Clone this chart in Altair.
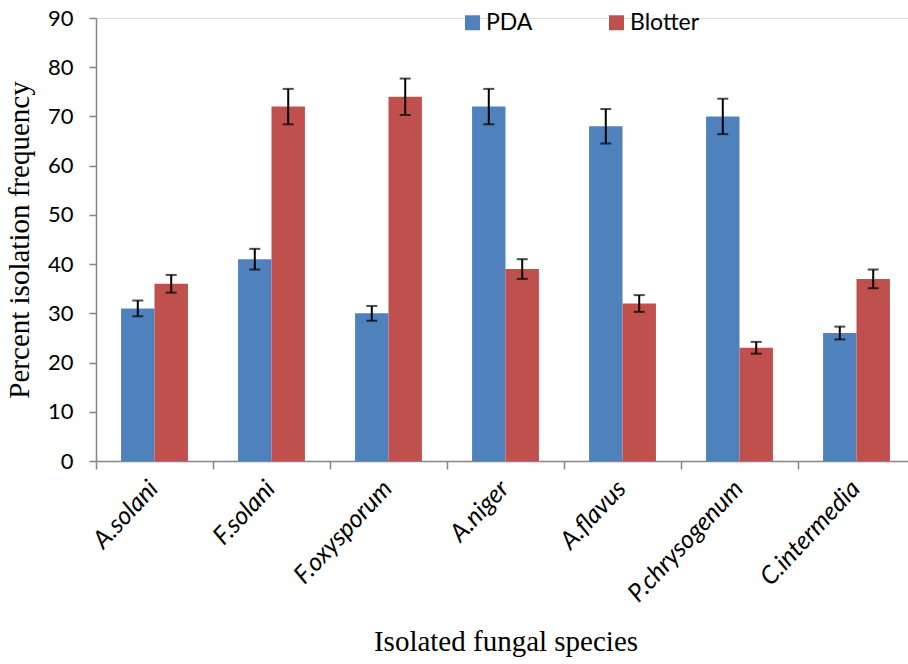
import altair as alt
import pandas as pd

species = ["A.solani", "F.solani", "F.oxysporum", "A.niger", "A.flavus",
           "P.chrysogenum", "C.intermedia"]
methods = ["PDA", "Blotter"]
pda = [31, 41, 30, 72, 68, 70, 26]
pda_err = [1.6, 2.1, 1.5, 3.6, 3.5, 3.6, 1.3]
blotter = [36, 72, 74, 39, 32, 23, 37]
blotter_err = [1.8, 3.6, 3.7, 2.0, 1.7, 1.2, 1.9]
y_ticks = [0, 10, 20, 30, 40, 50, 60, 70, 80, 90]
colors = ["#4F81BD", "#C0504D"]

rows = []
for i, s in enumerate(species):
    rows.append({"species": s, "method": "PDA", "value": pda[i], "err": pda_err[i]})
    rows.append({"species": s, "method": "Blotter", "value": blotter[i], "err": blotter_err[i]})
df = pd.DataFrame(rows)
df["lo"] = df["value"] - df["err"]
df["hi"] = df["value"] + df["err"]

AXIS_GRAY = "#868686"

x_axis = alt.Axis(
    title="Isolated fungal species",
    titleFont="Liberation Serif", titleFontSize=29, titleFontWeight="normal",
    titleColor="black", titlePadding=21,
    labelFont="Lato", labelFontStyle="italic", labelFontSize=25, labelColor="black",
    labelAngle=-47, labelAlign="right", labelBaseline="middle",
    bandPosition=0, labelOffset=-1, labelPadding=15,
    domainColor=AXIS_GRAY, domainWidth=1.5,
    tickColor=AXIS_GRAY, tickWidth=1.5, tickSize=8,
    grid=False,
)
y_axis = alt.Axis(
    title="Percent isolation frequency", values=y_ticks,
    titleFont="Liberation Serif", titleFontSize=29, titleFontWeight="normal",
    titleColor="black", titlePadding=13,
    labelFont="Lato", labelFontSize=22, labelColor="black", labelPadding=16,
    domainColor=AXIS_GRAY, domainWidth=1.5,
    tickColor=AXIS_GRAY, tickWidth=1.5, tickSize=7, grid=False,
)
y_scale = alt.Scale(domain=[0, 90], nice=False)

base = alt.Chart(df).encode(
    x=alt.X("species:N", sort=species,
            scale=alt.Scale(range=[0, 819], paddingInner=0, paddingOuter=0),
            axis=x_axis),
    xOffset=alt.XOffset("method:N", sort=methods,
                        scale=alt.Scale(paddingInner=0, paddingOuter=0.75)),
)

bars = base.mark_bar().encode(
    y=alt.Y("value:Q", scale=y_scale, axis=y_axis),
    color=alt.Color("method:N", sort=methods,
                    scale=alt.Scale(domain=methods, range=colors),
                    legend=alt.Legend(
                        title=None, orient="none", direction="horizontal",
                        legendX=365, legendY=-7,
                        symbolType="square", symbolSize=225, symbolStrokeWidth=0,
                        labelFont="Lato", labelFontSize=23, labelColor="black",
                        labelOffset=2, columnPadding=72,
                    )),
)
rules = base.mark_rule(color="black", strokeWidth=2).encode(
    y=alt.Y("lo:Q", scale=y_scale, axis=y_axis),
    y2="hi:Q",
)
caps_lo = base.mark_tick(color="black", thickness=2, size=11).encode(
    y=alt.Y("lo:Q", scale=y_scale, axis=y_axis),
)
caps_hi = base.mark_tick(color="black", thickness=2, size=11).encode(
    y=alt.Y("hi:Q", scale=y_scale, axis=y_axis),
)

chart = alt.layer(bars, rules, caps_lo, caps_hi).properties(
    width=812, height=443,
    padding={"left": 96, "top": 18, "right": 0, "bottom": 203},
    autosize=alt.AutoSizeParams(type="none"),
).configure_view(stroke="transparent", strokeWidth=0).configure(background="white")

chart.save("out.html", embed_options={"renderer": "svg", "actions": False})
